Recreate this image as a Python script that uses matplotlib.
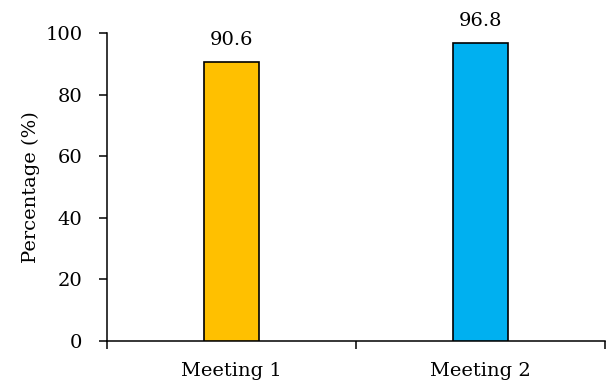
import matplotlib
matplotlib.use("Agg")
import matplotlib.pyplot as plt
import numpy as np

categories = ["Meeting 1", "Meeting 2"]
values = [90.6, 96.8]
colors = ["#FFC000", "#00B0F0"]
y_ticks = [0, 20, 40, 60, 80, 100]

plt.rcParams["font.family"] = ["DejaVu Serif"]
FS = 14

fig = plt.figure(figsize=(6.1, 3.85), dpi=100)
ax = fig.add_axes([107 / 610, 1 - 341 / 385, 498 / 610, 308 / 385])

x = np.arange(len(categories))
bars = ax.bar(x, values, width=0.22, color=colors, edgecolor="black", linewidth=1.2, zorder=3)

for xi, v in zip(x, values):
    ax.annotate(f"{v:.1f}", (xi, v), xytext=(0, 9), textcoords="offset points",
                ha="center", va="bottom", fontsize=FS)

ax.set_xlim(-0.5, len(categories) - 0.5)
ax.set_ylim(0, 100)
ax.set_yticks(y_ticks)
ax.set_yticklabels([str(t) for t in y_ticks])

# category boundaries carry the tick marks, labels sit at category centres
ax.set_xticks(np.arange(-0.5, len(categories), 1.0))
ax.set_xticklabels([])
ax.set_xticks(x, minor=True)
ax.set_xticklabels(categories, minor=True)
ax.tick_params(axis="x", which="major", direction="out", length=5.8, width=1.1)
ax.tick_params(axis="x", which="minor", length=0, pad=15, labelsize=FS)
ax.tick_params(axis="y", direction="out", length=5.8, width=1.1, pad=12, labelsize=FS)

for side in ["top", "right"]:
    ax.spines[side].set_visible(False)
for side in ["left", "bottom"]:
    ax.spines[side].set_linewidth(1.1)

ax.set_ylabel("Percentage (%)", fontsize=FS)
ax.yaxis.set_label_coords(-0.135, 0.5)

fig.savefig("out.png", dpi=100)
